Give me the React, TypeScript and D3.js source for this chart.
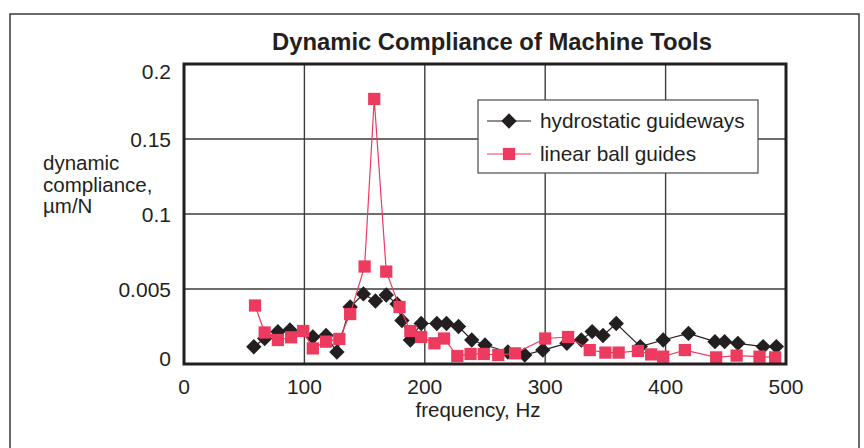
import React, { useEffect, useRef } from "react";
import * as d3 from "d3";

const title = "Dynamic Compliance of Machine Tools";
const xTicks = [0, 100, 200, 300, 400, 500];
const yTickValues = [0, 0.05, 0.1, 0.15, 0.2];
const yTickLabels = ["0", "0.005", "0.1", "0.15", "0.2"];
const xLabel = "frequency, Hz";
const yLabelLines = ["dynamic", "compliance,", "\u00b5m/N"];
const seriesNames = ["hydrostatic guideways", "linear ball guides"];

const hydroFreq = [58, 67, 78, 88, 107, 118, 127, 138, 149, 159, 168, 177, 181, 188, 197, 210, 218, 228, 239, 250, 269, 283, 298, 318, 330, 339, 348, 359, 379, 398, 419, 441, 449, 460, 481, 492];
const hydroVal = [0.0115, 0.017, 0.0215, 0.0227, 0.018, 0.019, 0.008, 0.038, 0.0467, 0.042, 0.046, 0.040, 0.029, 0.016, 0.027, 0.027, 0.027, 0.025, 0.016, 0.0127, 0.008, 0.006, 0.0093, 0.0138, 0.016, 0.0216, 0.019, 0.027, 0.0116, 0.016, 0.0204, 0.0149, 0.0149, 0.0138, 0.0116, 0.0116];

const ballFreq = [59, 67, 78, 89, 99, 107, 118, 129, 138, 150, 158, 168, 179, 188, 197, 208, 216, 227, 238, 249, 261, 275, 300, 319, 337, 350, 361, 377, 388, 398, 416, 442, 459, 478, 491];
const ballVal = [0.039, 0.021, 0.016, 0.0178, 0.022, 0.0104, 0.0149, 0.0167, 0.0333, 0.065, 0.1767, 0.0616, 0.038, 0.022, 0.018, 0.0138, 0.017, 0.0053, 0.0067, 0.0067, 0.006, 0.0071, 0.017, 0.018, 0.0093, 0.0076, 0.0076, 0.0087, 0.0064, 0.0049, 0.0093, 0.0044, 0.0056, 0.0049, 0.0044];

const W = 864;
const H = 448;
const FONT = "'Liberation Sans', Arial, Helvetica, sans-serif";
const BLACK = "#231f20";
const RED = "#ec3b5e";

export default function App() {
  const ref = useRef<SVGSVGElement>(null);

  useEffect(() => {
    const svg = d3.select(ref.current);
    svg.selectAll("*").remove();

    const left = 184, right = 786, top = 64, bottom = 364;
    const x = d3.scaleLinear().domain([0, 500]).range([left, right]);
    const y = d3.scaleLinear().domain([0, 0.2]).range([bottom, top]);

    svg.append("rect").attr("width", W).attr("height", H).attr("fill", "#fff");
    // outer frame
    svg.append("rect").attr("x", 10).attr("y", 14).attr("width", 849).attr("height", 460)
      .attr("fill", "none").attr("stroke", "#3a3a3a").attr("stroke-width", 1.5);

    // title
    svg.append("text").attr("x", 492).attr("y", 50).attr("text-anchor", "middle")
      .attr("font-family", FONT).attr("font-weight", "bold").attr("font-size", 23.8)
      .attr("fill", BLACK).text(title);

    // grid
    const g = svg.append("g");
    g.selectAll(".vg").data(xTicks.slice(1, -1)).enter().append("line")
      .attr("x1", d => x(d)).attr("x2", d => x(d)).attr("y1", top).attr("y2", bottom)
      .attr("stroke", "#3d3d3d").attr("stroke-width", 1.4);
    g.selectAll(".hg").data(yTickValues.slice(1, -1)).enter().append("line")
      .attr("x1", left).attr("x2", right).attr("y1", d => y(d)).attr("y2", d => y(d))
      .attr("stroke", "#3d3d3d").attr("stroke-width", 1.4);

    // y tick labels
    g.selectAll(".yl").data(yTickValues).enter().append("text")
      .attr("x", 171).attr("y", d => Math.min(Math.max(y(d), top + 7), bottom - 6))
      .attr("dy", "0.36em").attr("text-anchor", "end")
      .attr("font-family", FONT).attr("font-size", 21).attr("fill", BLACK)
      .text((d, i) => yTickLabels[i]);

    // x tick labels
    g.selectAll(".xl").data(xTicks).enter().append("text")
      .attr("x", d => x(d)).attr("y", 386).attr("dy", "0.36em").attr("text-anchor", "middle")
      .attr("font-family", FONT).attr("font-size", 21).attr("fill", BLACK)
      .text(d => String(d));

    svg.append("text").attr("x", 478).attr("y", 410).attr("dy", "0.36em").attr("text-anchor", "middle")
      .attr("font-family", FONT).attr("font-size", 20.5).attr("fill", BLACK).text(xLabel);

    const yl = svg.append("text").attr("font-family", FONT).attr("font-size", 20.5).attr("fill", BLACK);
    yLabelLines.forEach((t, i) => {
      yl.append("tspan").attr("x", 43).attr("y", 163 + i * 21.5).attr("dy", "0.36em").text(t);
    });

    // series
    const line = d3.line<[number, number]>().x(d => x(d[0])).y(d => y(d[1]));
    const hydro = hydroFreq.map((f, i) => [f, hydroVal[i]] as [number, number]);
    const ball = ballFreq.map((f, i) => [f, ballVal[i]] as [number, number]);

    const diamond = d3.symbol().type(d3.symbolDiamond2).size(150);
    const square = d3.symbol().type(d3.symbolSquare).size(150);

    svg.append("path").datum(hydro).attr("d", line).attr("fill", "none")
      .attr("stroke", BLACK).attr("stroke-width", 1.2);
    svg.selectAll(".hd").data(hydro).enter().append("path")
      .attr("transform", d => `translate(${x(d[0])},${y(d[1])})`)
      .attr("d", diamond()).attr("fill", BLACK);

    svg.append("path").datum(ball).attr("d", line).attr("fill", "none")
      .attr("stroke", RED).attr("stroke-width", 1.2);
    svg.selectAll(".bs").data(ball).enter().append("path")
      .attr("transform", d => `translate(${x(d[0])},${y(d[1])})`)
      .attr("d", square()).attr("fill", RED);

    // plot frame
    svg.append("rect").attr("x", left).attr("y", top).attr("width", right - left).attr("height", bottom - top)
      .attr("fill", "none").attr("stroke", BLACK).attr("stroke-width", 3);

    // legend
    const lg = svg.append("g");
    lg.append("rect").attr("x", 478).attr("y", 100).attr("width", 280).attr("height", 73)
      .attr("fill", "#fff").attr("stroke", "#4a4a4a").attr("stroke-width", 1.2);
    const rows = [
      { name: seriesNames[0], color: BLACK, sym: diamond, y: 121 },
      { name: seriesNames[1], color: RED, sym: square, y: 154 },
    ];
    rows.forEach(r => {
      lg.append("line").attr("x1", 487).attr("x2", 531).attr("y1", r.y).attr("y2", r.y)
        .attr("stroke", r.color).attr("stroke-width", 1.2);
      lg.append("path").attr("transform", `translate(509,${r.y})`).attr("d", r.sym()).attr("fill", r.color);
      lg.append("text").attr("x", 540).attr("y", r.y).attr("dy", "0.36em")
        .attr("font-family", FONT).attr("font-size", 20.8).attr("fill", BLACK).text(r.name);
    });
  }, []);

  return (
    <svg ref={ref} width={W} height={H} style={{ position: "absolute", left: 0, top: 0 }} />
  );
}
